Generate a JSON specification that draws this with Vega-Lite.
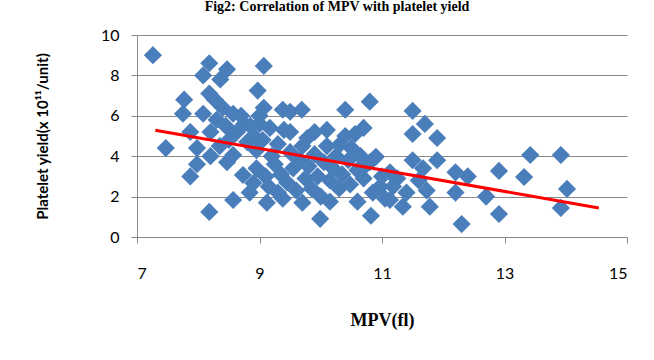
{
  "$schema": "https://vega.github.io/schema/vega-lite/v6.json",
  "width": 490,
  "height": 202,
  "autosize": "none",
  "padding": {"left": 137, "top": 35, "right": 27, "bottom": 123},
  "background": "white",
  "title": {
    "text": "Fig2: Correlation of MPV with platelet yield",
    "font": "Liberation Serif",
    "fontSize": 14,
    "fontWeight": "bold",
    "color": "black",
    "anchor": "middle",
    "baseline": "top",
    "offset": 13,
    "dx": -45
  },
  "config": {
    "view": {"stroke": null},
    "axis": {
      "domainColor": "#8A8A8A",
      "tickColor": "#8A8A8A",
      "gridColor": "#8A8A8A",
      "labelColor": "black",
      "titleColor": "black",
      "labelFont": "Lato",
      "labelFontSize": 16
    }
  },
  "datasets": {
    "points": [
      {"mpv": 7.26, "yield": 9.0}, {"mpv": 7.47, "yield": 4.4}, {"mpv": 7.75, "yield": 6.1}, {"mpv": 7.77, "yield": 6.8},
      {"mpv": 7.87, "yield": 3.0}, {"mpv": 7.87, "yield": 5.2}, {"mpv": 7.98, "yield": 4.4}, {"mpv": 7.98, "yield": 3.6},
      {"mpv": 8.08, "yield": 8.0}, {"mpv": 8.08, "yield": 6.1}, {"mpv": 8.18, "yield": 8.6}, {"mpv": 8.18, "yield": 7.1},
      {"mpv": 8.18, "yield": 1.24}, {"mpv": 8.2, "yield": 5.2}, {"mpv": 8.2, "yield": 4.0}, {"mpv": 8.27, "yield": 6.8},
      {"mpv": 8.36, "yield": 7.8}, {"mpv": 8.47, "yield": 8.3}, {"mpv": 8.47, "yield": 3.7}, {"mpv": 8.57, "yield": 6.1},
      {"mpv": 8.57, "yield": 4.06}, {"mpv": 8.57, "yield": 1.83}, {"mpv": 8.63, "yield": 5.2}, {"mpv": 8.4, "yield": 6.4},
      {"mpv": 8.3, "yield": 5.8}, {"mpv": 8.35, "yield": 4.5}, {"mpv": 8.45, "yield": 5.5}, {"mpv": 8.5, "yield": 4.8},
      {"mpv": 8.7, "yield": 6.0}, {"mpv": 8.73, "yield": 3.07}, {"mpv": 8.75, "yield": 5.6}, {"mpv": 8.8, "yield": 4.7},
      {"mpv": 8.9, "yield": 2.67}, {"mpv": 8.84, "yield": 2.2}, {"mpv": 8.85, "yield": 5.5}, {"mpv": 8.9, "yield": 5.0},
      {"mpv": 8.97, "yield": 7.25}, {"mpv": 8.95, "yield": 4.3}, {"mpv": 8.95, "yield": 3.4}, {"mpv": 9.0, "yield": 6.0},
      {"mpv": 9.0, "yield": 5.6}, {"mpv": 9.07, "yield": 8.47}, {"mpv": 9.07, "yield": 6.4}, {"mpv": 9.05, "yield": 4.8},
      {"mpv": 9.1, "yield": 3.0}, {"mpv": 9.12, "yield": 1.7}, {"mpv": 9.15, "yield": 2.5}, {"mpv": 9.17, "yield": 5.4},
      {"mpv": 9.2, "yield": 4.0}, {"mpv": 9.25, "yield": 3.6}, {"mpv": 9.3, "yield": 2.2}, {"mpv": 9.3, "yield": 4.6},
      {"mpv": 9.38, "yield": 6.3}, {"mpv": 9.38, "yield": 1.9}, {"mpv": 9.35, "yield": 3.1}, {"mpv": 9.4, "yield": 5.3},
      {"mpv": 9.45, "yield": 2.7}, {"mpv": 9.5, "yield": 6.2}, {"mpv": 9.5, "yield": 5.2}, {"mpv": 9.5, "yield": 4.2},
      {"mpv": 9.55, "yield": 3.4}, {"mpv": 9.6, "yield": 2.3}, {"mpv": 9.65, "yield": 3.8}, {"mpv": 9.69, "yield": 6.3},
      {"mpv": 9.7, "yield": 1.7}, {"mpv": 9.7, "yield": 4.5}, {"mpv": 9.75, "yield": 2.9}, {"mpv": 9.78, "yield": 4.9},
      {"mpv": 9.8, "yield": 3.5}, {"mpv": 9.85, "yield": 2.4}, {"mpv": 9.9, "yield": 4.1}, {"mpv": 9.9, "yield": 5.2},
      {"mpv": 9.95, "yield": 3.0}, {"mpv": 9.99, "yield": 0.9}, {"mpv": 10.0, "yield": 2.0}, {"mpv": 10.05, "yield": 3.7},
      {"mpv": 10.1, "yield": 5.3}, {"mpv": 10.1, "yield": 4.5}, {"mpv": 10.15, "yield": 1.75}, {"mpv": 10.15, "yield": 2.8},
      {"mpv": 10.2, "yield": 3.4}, {"mpv": 10.25, "yield": 4.0}, {"mpv": 10.3, "yield": 4.55}, {"mpv": 10.3, "yield": 2.4},
      {"mpv": 10.35, "yield": 3.1}, {"mpv": 10.4, "yield": 6.3}, {"mpv": 10.4, "yield": 5.0}, {"mpv": 10.45, "yield": 3.8},
      {"mpv": 10.48, "yield": 2.6}, {"mpv": 10.5, "yield": 4.4}, {"mpv": 10.56, "yield": 5.1}, {"mpv": 10.6, "yield": 1.75},
      {"mpv": 10.6, "yield": 3.3}, {"mpv": 10.65, "yield": 4.0}, {"mpv": 10.7, "yield": 5.4}, {"mpv": 10.7, "yield": 2.9},
      {"mpv": 10.75, "yield": 3.6}, {"mpv": 10.8, "yield": 6.7}, {"mpv": 10.8, "yield": 3.7}, {"mpv": 10.82, "yield": 1.05},
      {"mpv": 10.85, "yield": 2.2}, {"mpv": 10.9, "yield": 3.97}, {"mpv": 10.97, "yield": 2.5}, {"mpv": 11.0, "yield": 3.0},
      {"mpv": 11.05, "yield": 1.9}, {"mpv": 11.13, "yield": 3.2}, {"mpv": 11.13, "yield": 1.83}, {"mpv": 11.18, "yield": 2.5},
      {"mpv": 11.25, "yield": 2.9}, {"mpv": 11.34, "yield": 1.5}, {"mpv": 11.4, "yield": 2.2}, {"mpv": 11.5, "yield": 6.24},
      {"mpv": 11.5, "yield": 5.1}, {"mpv": 11.5, "yield": 3.8}, {"mpv": 11.6, "yield": 2.8}, {"mpv": 11.67, "yield": 3.4},
      {"mpv": 11.7, "yield": 5.6}, {"mpv": 11.73, "yield": 2.3}, {"mpv": 11.78, "yield": 1.5}, {"mpv": 11.9, "yield": 4.9},
      {"mpv": 11.9, "yield": 3.8}, {"mpv": 12.2, "yield": 3.2}, {"mpv": 12.4, "yield": 3.0}, {"mpv": 12.2, "yield": 2.2},
      {"mpv": 12.7, "yield": 2.0}, {"mpv": 12.3, "yield": 0.64}, {"mpv": 12.91, "yield": 3.27}, {"mpv": 12.91, "yield": 1.14},
      {"mpv": 13.32, "yield": 2.97}, {"mpv": 13.42, "yield": 4.06}, {"mpv": 13.92, "yield": 4.06}, {"mpv": 14.02, "yield": 2.38},
      {"mpv": 13.92, "yield": 1.44}
    ],
    "trend": [
      {"mpv": 7.3, "yield": 5.28},
      {"mpv": 14.54, "yield": 1.44}
    ]
  },
  "layer": [
    {
      "data": {"name": "points"},
      "mark": {"type": "point", "shape": "diamond", "filled": true, "size": 330, "color": "#4A7EBB", "opacity": 1},
      "encoding": {
        "x": {
          "field": "mpv", "type": "quantitative",
          "scale": {"domain": [7, 15], "nice": false, "zero": false},
          "axis": {
            "values": [7, 9, 11, 13, 15],
            "format": "d",
            "grid": false,
            "tickSize": 6,
            "labelPadding": 22,
            "title": "MPV(fl)",
            "titleFont": "Liberation Serif",
            "titleFontSize": 18,
            "titleFontWeight": "bold",
            "titleBaseline": "middle",
            "titleY": 83
          }
        },
        "y": {
          "field": "yield", "type": "quantitative",
          "scale": {"domain": [0, 10], "nice": false},
          "axis": {
            "values": [0, 2, 4, 6, 8, 10],
            "format": "d",
            "grid": true,
            "tickSize": 6,
            "labelPadding": 12,
            "title": "Platelet yield(x 10¹¹/unit)",
            "titleFont": "Lato",
            "titleFontSize": 15,
            "titleFontWeight": "bold",
            "titleAngle": -90,
            "titleAlign": "center",
            "titleBaseline": "middle",
            "titleX": -95,
            "titleY": 101
          }
        }
      }
    },
    {
      "data": {"name": "trend"},
      "mark": {"type": "line", "color": "#FF0000", "strokeWidth": 3},
      "encoding": {
        "x": {"field": "mpv", "type": "quantitative"},
        "y": {"field": "yield", "type": "quantitative"}
      }
    }
  ]
}
